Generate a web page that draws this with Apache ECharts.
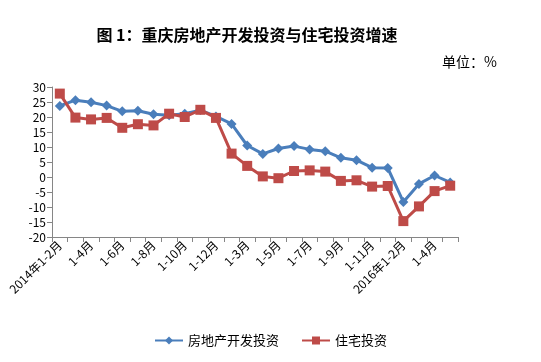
<!DOCTYPE html>
<html>
<head>
<meta charset="utf-8">
<script src="https://cdn.jsdelivr.net/npm/echarts@6/dist/echarts.min.js"></script>
<style>html,body{margin:0;padding:0;background:#fff;}#c{width:541px;height:362px;}</style>
</head>
<body>
<div id="c"></div>
<script>
var categories = ['2014年1-2月','1-3月','1-4月','1-5月','1-6月','1-7月','1-8月','1-9月','1-10月','1-11月','1-12月',
  '2015年1-2月','1-3月','1-4月','1-5月','1-6月','1-7月','1-8月','1-9月','1-10月','1-11月','1-12月',
  '2016年1-2月','1-3月','1-4月','1-5月'];
var devInvest = [23.7,25.6,24.9,23.8,21.9,22.1,20.9,20.6,21.1,22.3,20.2,17.7,10.5,7.7,9.5,10.3,9.2,8.6,6.4,5.6,3.1,3.0,-8.3,-2.3,0.5,-1.8];
var houseInvest = [27.8,19.8,19.2,19.7,16.4,17.6,17.2,21.1,20.0,22.4,19.7,7.8,3.7,0.2,-0.4,2.0,2.2,1.8,-1.3,-1.1,-3.2,-3.0,-14.7,-9.8,-4.7,-2.9];
var yTicks = {min:-20, max:30, interval:5};
var seriesNames = ['房地产开发投资','住宅投资'];

var fontFam = 'Noto Sans CJK SC, Noto Sans, sans-serif';
var chart = echarts.init(document.getElementById('c'));
chart.setOption({
  backgroundColor:'#fff',
  animation:false,
  title:[{
    text:'图 1：重庆房地产开发投资与住宅投资增速',
    left:242, top:22, textAlign:'center',
    textStyle:{fontSize:16, fontWeight:'bold', color:'#000', fontFamily:fontFam}
  },{
    text:'单位：%',
    left:437, top:50,
    textStyle:{fontSize:14, fontWeight:'normal', color:'#000', fontFamily:fontFam}
  }],
  legend:{
    data:seriesNames,
    left:'center', bottom:10, itemWidth:28, itemHeight:10, itemGap:22,
    textStyle:{fontSize:13, color:'#000', fontFamily:fontFam}
  },
  grid:{left:52, right:83, top:87, bottom:125},
  xAxis:{
    type:'category', data:categories, boundaryGap:true,
    axisLine:{onZero:false, lineStyle:{color:'#868686'}},
    axisTick:{show:true, interval:0, lineStyle:{color:'#868686'}, length:5},
    axisLabel:{interval:1, rotate:45, fontSize:12, color:'#000', fontFamily:fontFam, margin:6}
  },
  yAxis:{
    type:'value', min:yTicks.min, max:yTicks.max, interval:yTicks.interval,
    axisLine:{show:true, lineStyle:{color:'#868686'}},
    axisTick:{show:true, lineStyle:{color:'#868686'}, length:5},
    splitLine:{show:false},
    axisLabel:{fontSize:12, color:'#000', fontFamily:fontFam, margin:6}
  },
  series:[{
    name:seriesNames[0], type:'line', data:devInvest,
    symbol:'diamond', symbolSize:10,
    lineStyle:{width:3, color:'#4A7EBB'},
    itemStyle:{color:'#4A7EBB'}
  },{
    name:seriesNames[1], type:'line', data:houseInvest,
    symbol:'rect', symbolSize:10,
    lineStyle:{width:3, color:'#BE4B48'},
    itemStyle:{color:'#BE4B48'}
  }]
});
</script>
</body>
</html>
